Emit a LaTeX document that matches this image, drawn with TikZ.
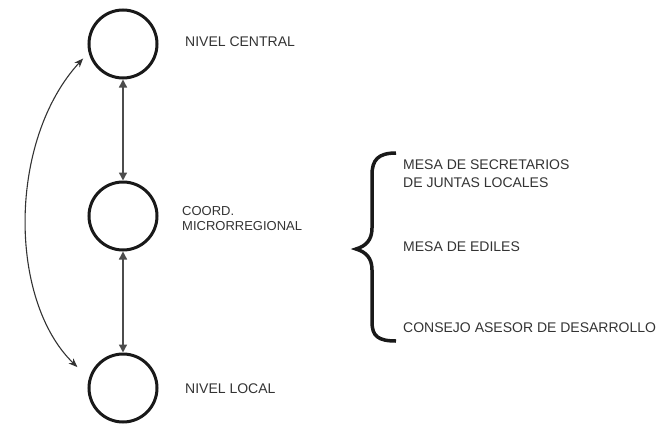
\documentclass[tikz,border=0pt]{standalone}
\usepackage{fontspec}
\setmainfont{Liberation Sans}
\usetikzlibrary{arrows.meta}
\begin{document}
\begin{tikzpicture}[x=1pt,y=-1pt,
  level/.style={circle,draw=black!90,line width=3pt,minimum size=68pt,inner sep=0pt},
  lbl/.style={anchor=west,font=\fontsize{14}{18}\selectfont,text=black!80,inner sep=0pt,align=left},
  conn/.style={draw=black!70,line width=1.4pt,{Triangle[length=8pt,width=8pt]}-{Triangle[length=8pt,width=8pt]}},
  curv/.style={draw=black!80,line width=1.1pt,{Stealth[length=9pt,width=7pt]}-{Stealth[length=9pt,width=7pt]}}]
\useasboundingbox (0,0) rectangle (666,423);
\node[level] (T) at (123,44) {};
\node[level] (M) at (123,216) {};
\node[level] (B) at (123,388) {};
\draw[conn] (T) -- (M);
\draw[conn] (M) -- (B);
\draw[curv, shorten <=8pt, shorten >=16pt] (T.194) .. controls (8,140) and (8,300) .. (B.164);
\node[lbl] (tc) at (185,42) {NIVEL CENTRAL};
\node[lbl,font=\fontsize{13}{15}\selectfont] (tm) at (182,219) {COORD.\\MICRORREGIONAL};
\node[lbl] (tb) at (185,389) {NIVEL LOCAL};
\node[lbl] (r1) at (403,174) {MESA DE SECRETARIOS\\DE JUNTAS LOCALES};
\node[lbl] (r2) at (403,247) {MESA DE EDILES};
\node[lbl] (r3) at (403,328) {CONSEJO ASESOR DE DESARROLLO};
\draw[line width=3.5pt,black!90] (396,153) .. controls (378,153) and (372,160) .. (372,175)
  -- (372,228) .. controls (372,240) and (366,246) .. (356,249)
  .. controls (366,252) and (372,258) .. (372,270)
  -- (372,322) .. controls (372,336) and (378,341) .. (396,341);
\end{tikzpicture}
\end{document}
